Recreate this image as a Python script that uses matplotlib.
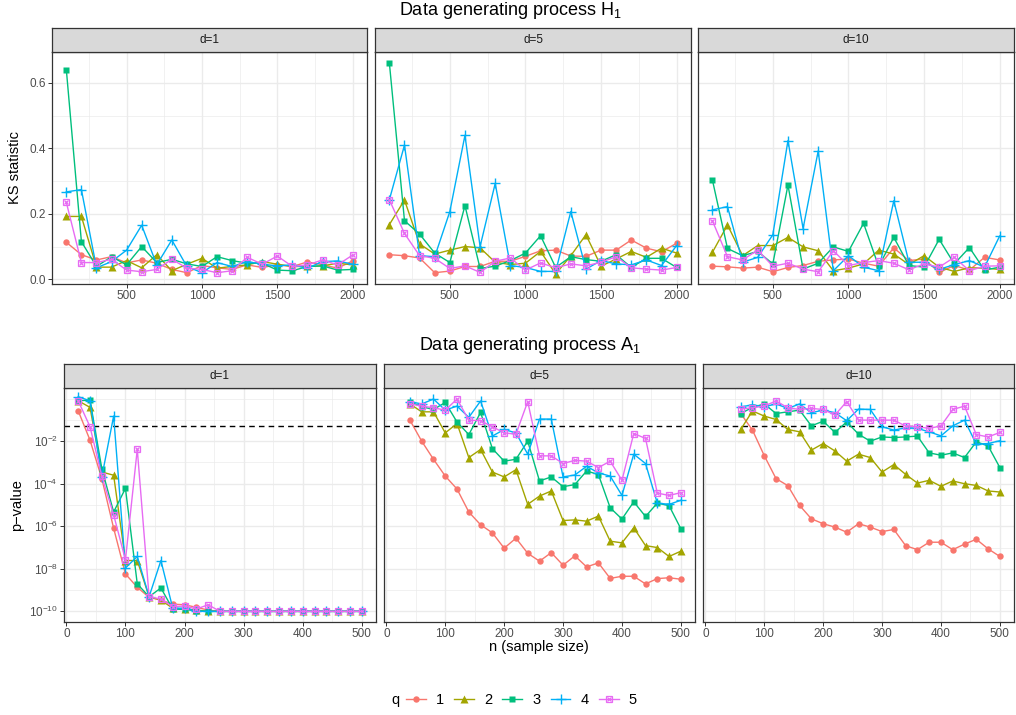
import matplotlib
matplotlib.use("Agg")
import matplotlib.pyplot as plt
import numpy as np
from matplotlib.lines import Line2D

plt.rcParams["font.family"] = ["Liberation Sans", "DejaVu Sans"]
plt.rcParams["mathtext.default"] = "regular"

W, H = 1016, 715

# ---- data -----------------------------------------------------------------
Q_LEVELS = ["1", "2", "3", "4", "5"]
COLORS = ["#F8766D", "#A3A500", "#00BF7D", "#00B0F6", "#E76BF3"]

# H1: KS statistic vs n, one list per q (q = 1..5)
n_h1 = [100, 200, 300, 400, 500, 600, 700, 800, 900, 1000,
        1100, 1200, 1300, 1400, 1500, 1600, 1700, 1800, 1900, 2000]

ks_d1 = [
    [0.113, 0.075, 0.059, 0.069, 0.050, 0.059, 0.049, 0.030, 0.020, 0.042,
     0.035, 0.030, 0.044, 0.036, 0.044, 0.039, 0.053, 0.044, 0.034, 0.056],
    [0.192, 0.192, 0.037, 0.037, 0.057, 0.035, 0.075, 0.026, 0.046, 0.064,
     0.034, 0.039, 0.044, 0.054, 0.046, 0.039, 0.039, 0.041, 0.049, 0.044],
    [0.641, 0.115, 0.039, 0.069, 0.044, 0.100, 0.051, 0.061, 0.047, 0.039,
     0.069, 0.057, 0.049, 0.049, 0.028, 0.026, 0.039, 0.041, 0.028, 0.030],
    [0.267, 0.274, 0.035, 0.054, 0.089, 0.165, 0.044, 0.120, 0.039, 0.020,
     0.051, 0.039, 0.054, 0.046, 0.041, 0.044, 0.034, 0.054, 0.056, 0.046],
    [0.235, 0.051, 0.051, 0.061, 0.028, 0.023, 0.030, 0.061, 0.034, 0.030,
     0.020, 0.026, 0.067, 0.046, 0.071, 0.039, 0.044, 0.059, 0.044, 0.074],
]
ks_d5 = [
    [0.075, 0.072, 0.065, 0.020, 0.025, 0.039, 0.039, 0.055, 0.055, 0.070,
     0.087, 0.089, 0.071, 0.070, 0.089, 0.089, 0.120, 0.095, 0.084, 0.110],
    [0.167, 0.242, 0.108, 0.077, 0.089, 0.100, 0.096, 0.052, 0.045, 0.049,
     0.085, 0.016, 0.072, 0.136, 0.040, 0.062, 0.085, 0.067, 0.095, 0.080],
    [0.661, 0.179, 0.138, 0.080, 0.051, 0.225, 0.033, 0.040, 0.057, 0.080,
     0.133, 0.036, 0.069, 0.060, 0.055, 0.075, 0.036, 0.064, 0.064, 0.036],
    [0.243, 0.410, 0.072, 0.069, 0.207, 0.440, 0.100, 0.293, 0.042, 0.036,
     0.024, 0.024, 0.207, 0.031, 0.057, 0.047, 0.044, 0.059, 0.042, 0.103],
    [0.243, 0.140, 0.072, 0.064, 0.033, 0.041, 0.021, 0.055, 0.065, 0.028,
     0.050, 0.035, 0.047, 0.041, 0.052, 0.069, 0.035, 0.031, 0.028, 0.036],
]
ks_d10 = [
    [0.040, 0.038, 0.034, 0.037, 0.023, 0.036, 0.042, 0.055, 0.059, 0.062,
     0.049, 0.040, 0.096, 0.057, 0.062, 0.021, 0.042, 0.028, 0.067, 0.059],
    [0.082, 0.166, 0.072, 0.103, 0.103, 0.128, 0.099, 0.087, 0.026, 0.034,
     0.047, 0.089, 0.077, 0.045, 0.072, 0.037, 0.024, 0.035, 0.034, 0.030],
    [0.304, 0.094, 0.072, 0.085, 0.047, 0.288, 0.031, 0.049, 0.099, 0.085,
     0.171, 0.039, 0.128, 0.042, 0.037, 0.122, 0.047, 0.097, 0.028, 0.037],
    [0.212, 0.222, 0.052, 0.067, 0.136, 0.424, 0.155, 0.392, 0.026, 0.072,
     0.037, 0.026, 0.240, 0.052, 0.052, 0.030, 0.045, 0.057, 0.037, 0.132],
    [0.179, 0.069, 0.059, 0.089, 0.040, 0.049, 0.031, 0.023, 0.087, 0.042,
     0.051, 0.057, 0.049, 0.029, 0.047, 0.037, 0.067, 0.026, 0.040, 0.041],
]

# A1: log10(p-value) vs n, one list per q
n_a1 = [20, 40, 60, 80, 100, 120, 140, 160, 180, 200, 220, 240, 260,
        280, 300, 320, 340, 360, 380, 400, 420, 440, 460, 480, 500]

logp_d1 = [
    [-0.57, -1.95, -3.76, -6.09, -8.24, -8.87, -9.34, -9.47, -9.66, -9.69, -9.81, -9.94, -10,
     -10, -10, -10, -10, -10, -10, -10, -10, -10, -10, -10, -10],
    [-0.10, -0.41, -3.45, -3.60, -7.61, -7.61, -9.31, -9.47, -9.85, -9.89, -9.94, -10, -10,
     -10, -10, -10, -10, -10, -10, -10, -10, -10, -10, -10, -10],
    [-0.10, -0.07, -3.29, -5.33, -4.22, -8.71, -9.31, -8.90, -9.89, -9.91, -9.97, -10, -10,
     -10, -10, -10, -10, -10, -10, -10, -10, -10, -10, -10, -10],
    [0.09, -0.10, -3.68, -0.82, -7.96, -7.42, -9.31, -7.61, -9.85, -9.85, -10, -10, -10,
     -10, -10, -10, -10, -10, -10, -10, -10, -10, -10, -10, -10],
    [-0.10, -1.32, -3.64, -5.46, -7.58, -2.38, -9.31, -9.42, -9.78, -9.75, -9.89, -9.69, -10,
     -10, -10, -10, -10, -10, -10, -10, -10, -10, -10, -10, -10],
]
# d=5 starts at n=40
logp_d5 = [
    [-1.01, -2.00, -2.85, -3.64, -4.25, -5.33, -5.93, -6.31, -7.03, -6.56, -7.27, -7.64,
     -7.24, -7.83, -7.39, -7.91, -7.72, -8.45, -8.35, -8.35, -8.71, -8.46, -8.42, -8.49],
    [-0.25, -0.62, -0.62, -1.61, -1.17, -2.77, -2.39, -3.45, -3.68, -3.34, -4.97, -4.58,
     -4.34, -5.73, -5.70, -5.76, -5.52, -6.70, -6.78, -6.07, -6.91, -7.00, -7.42, -7.17],
    [-0.14, -0.38, -0.51, -0.18, -1.10, -1.69, -0.65, -2.35, -2.94, -2.85, -2.00, -3.87,
     -3.68, -4.14, -4.04, -3.40, -3.57, -5.13, -5.66, -4.85, -5.54, -4.91, -5.03, -6.12],
    [-0.14, -0.25, -0.02, -0.54, -0.35, -0.88, -0.11, -1.76, -1.45, -1.61, -2.61, -0.96,
     -0.96, -3.68, -3.59, -3.18, -3.49, -3.64, -4.55, -2.61, -3.05, -4.91, -4.97, -4.78],
    [-0.25, -0.35, -0.43, -0.54, -0.02, -1.01, -1.04, -1.32, -1.61, -1.67, -0.14, -2.69,
     -2.69, -3.05, -2.90, -2.94, -3.24, -2.94, -3.84, -1.64, -1.87, -4.44, -4.55, -4.42],
]
# d=10 starts at n=60
logp_d10 = [
    [-0.70, -1.48, -2.68, -3.76, -4.09, -5.02, -5.65, -5.88, -6.04, -6.28, -5.88, -6.04,
     -6.25, -6.15, -6.91, -7.10, -6.75, -6.75, -7.10, -6.84, -6.61, -7.06, -7.42],
    [-1.45, -0.58, -0.82, -0.98, -1.45, -1.56, -2.42, -2.11, -2.46, -2.94, -2.61, -2.77,
     -3.45, -3.10, -3.56, -3.97, -3.84, -4.12, -3.87, -4.00, -4.08, -4.34, -4.39],
    [-0.70, -0.41, -0.25, -0.70, -0.62, -0.54, -1.28, -1.06, -1.59, -1.09, -1.67, -2.00,
     -1.80, -1.83, -1.80, -1.76, -2.55, -2.66, -2.55, -2.77, -2.03, -2.22, -3.24],
    [-0.38, -0.30, -0.38, -0.25, -0.46, -0.25, -0.66, -0.54, -0.66, -1.04, -0.49, -0.51,
     -1.32, -1.48, -1.37, -1.40, -1.56, -1.75, -1.28, -1.01, -2.14, -2.11, -1.98],
    [-0.49, -0.43, -0.35, -0.11, -0.43, -0.51, -0.46, -0.51, -0.77, -0.14, -1.01, -1.01,
     -1.01, -1.01, -1.29, -1.32, -1.40, -1.28, -0.51, -0.35, -1.69, -1.80, -1.59],
]
P_THRESHOLD = 0.05

# ---- styling --------------------------------------------------------------
GRID_COL = "#EBEBEB"
BORDER_COL = "#333333"
TICK_TXT = "#4D4D4D"

MARKERS = [
    dict(marker="o", ms=4.6, mec="none"),
    dict(marker="^", ms=5.6, mec="none"),
    dict(marker="s", ms=4.7, mec="none"),
    dict(marker="+", ms=7.5, mew=1.0),
    dict(marker="s", ms=5.0, mfc="none", mew=0.9),
]


def draw_series(ax, x, ys, log=False):
    for i, y in enumerate(ys):
        y = np.asarray(y, dtype=float)
        if log:
            y = 10 ** y
        xs = x[len(x) - len(y):]
        ax.plot(xs, y, color=COLORS[i], lw=1.0, **MARKERS[i], zorder=3 + i)
        if i == 4:  # shape 7: square with a cross inside
            ax.plot(xs, y, ls="none", marker="x", ms=3.5, mew=0.9,
                    color=COLORS[i], zorder=3 + i)


def panel(fig, left, top, right, bottom, label, strip_h=24):
    ax = fig.add_axes([left / W, 1 - bottom / H, (right - left) / W, (bottom - top) / H])
    ax.set_facecolor("white")
    for s in ax.spines.values():
        s.set_color(BORDER_COL)
        s.set_linewidth(0.9)
    ax.grid(True, which="major", color=GRID_COL, lw=1.0, zorder=0)
    ax.grid(True, which="minor", color=GRID_COL, lw=0.5, zorder=0)
    ax.set_axisbelow(True)
    ax.tick_params(which="major", length=3, width=0.7, color=BORDER_COL,
                   labelsize=8.5, labelcolor=TICK_TXT, pad=1.5)
    ax.tick_params(which="minor", length=0)

    st = fig.add_axes([left / W, 1 - top / H, (right - left) / W, strip_h / H])
    st.set_facecolor("#D9D9D9")
    st.set_xticks([])
    st.set_yticks([])
    for s in st.spines.values():
        s.set_color(BORDER_COL)
        s.set_linewidth(0.9)
    st.text(0.5, 0.5, label, ha="center", va="center", fontsize=8.5, color="#1A1A1A",
            transform=st.transAxes)
    return ax


fig = plt.figure(figsize=(W / 100, H / 100), dpi=100)

# ---- H1 row ---------------------------------------------------------------
top_boxes = [(52, 52, 367, 284), (375, 52, 691, 284), (698, 52, 1014, 284)]
for k, (box, ys, lab) in enumerate(zip(top_boxes, [ks_d1, ks_d5, ks_d10],
                                       ["d=1", "d=5", "d=10"])):
    ax = panel(fig, *box, lab)
    draw_series(ax, n_h1, ys)
    ax.set_xlim(5, 2095)
    ax.set_ylim(-0.0145, 0.6945)
    ax.set_xticks([500, 1000, 1500, 2000])
    ax.set_xticks([250, 750, 1250, 1750], minor=True)
    ax.set_yticks([0.0, 0.2, 0.4, 0.6])
    ax.set_yticks([0.1, 0.3, 0.5], minor=True)
    if k == 0:
        ax.set_yticklabels(["0.0", "0.2", "0.4", "0.6"])
    else:
        ax.tick_params(axis="y", which="both", left=False, labelleft=False)

fig.text(510 / W, 1 - 15 / H, "Data generating process H$_1$", ha="center", va="baseline",
         fontsize=13)
fig.text(15 / W, 1 - 168 / H, "KS statistic", rotation=90, ha="center", va="center",
         fontsize=10.5)

# ---- A1 row ---------------------------------------------------------------
bot_boxes = [(64, 388, 376, 622), (384, 388, 695, 622), (703, 388, 1014, 622)]
for k, (box, ys, lab) in enumerate(zip(bot_boxes, [logp_d1, logp_d5, logp_d10],
                                       ["d=1", "d=5", "d=10"])):
    ax = panel(fig, *box, lab)
    ax.set_yscale("log")
    draw_series(ax, n_a1, ys, log=True)
    ax.axhline(P_THRESHOLD, color="black", lw=1.0, ls=(0, (4, 3)), zorder=2)
    ax.set_xlim(-4, 524)
    ax.set_ylim(10 ** -10.5, 10 ** 0.5)
    ax.set_xticks([0, 100, 200, 300, 400, 500])
    ax.set_xticks([50, 150, 250, 350, 450], minor=True)
    majors = [1e-10, 1e-8, 1e-6, 1e-4, 1e-2]
    ax.set_yticks(majors)
    ax.set_yticks([1e-9, 1e-7, 1e-5, 1e-3, 1e-1, 1e0], minor=True)
    if k == 0:
        ax.set_yticklabels(["$10^{-10}$", "$10^{-8}$", "$10^{-6}$", "$10^{-4}$", "$10^{-2}$"])
    else:
        ax.tick_params(axis="y", which="both", left=False, labelleft=False)
    ax.set_yticklabels([], minor=True)

fig.text(530 / W, 1 - 350 / H, "Data generating process A$_1$", ha="center", va="baseline",
         fontsize=13)
fig.text(17 / W, 1 - 505 / H, "p\u2212value", rotation=90, ha="center", va="center",
         fontsize=10.5)
fig.text(539 / W, 1 - 647 / H, "n (sample size)", ha="center", va="center", fontsize=10.5)

# ---- legend ---------------------------------------------------------------
handles = []
for i in range(5):
    h = Line2D([], [], color=COLORS[i], lw=1.0, **MARKERS[i])
    if i == 4:
        hx = Line2D([], [], color=COLORS[i], ls="none", marker="x", ms=3.5, mew=0.9)
        h = (h, hx)
    handles.append(h)
fig.text(395 / W, 1 - 700 / H, "q", ha="center", va="center", fontsize=10.5)
fig.legend(handles, Q_LEVELS, loc="center left", bbox_to_anchor=(406 / W, 1 - 700 / H),
           ncol=5, frameon=False, fontsize=10.5, handlelength=1.35, handletextpad=0.7,
           columnspacing=0.7, borderpad=0, borderaxespad=0)

fig.savefig("out.png", dpi=100)
